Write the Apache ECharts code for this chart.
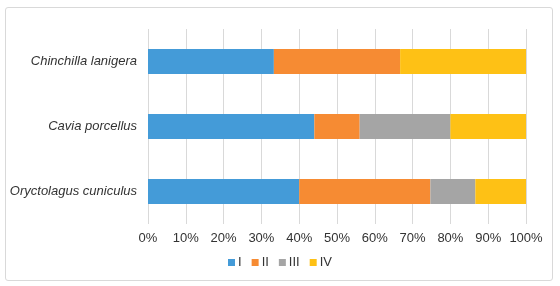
<!DOCTYPE html>
<html>
<head>
<meta charset="utf-8">
<script src="https://cdn.jsdelivr.net/npm/echarts@6/dist/echarts.min.js"></script>
<style>
html, body { margin: 0; padding: 0; background: #fff; }
#box { position: absolute; left: 5px; top: 7px; width: 548px; height: 274px; border: 1px solid #d9d9d9; border-radius: 3px; box-sizing: border-box; }
#chart { position: absolute; left: 0; top: 0; width: 560px; height: 286px; }
</style>
</head>
<body>
<div id="box"></div>
<div id="chart"></div>
<script>
var species = ['Oryctolagus cuniculus', 'Cavia porcellus', 'Chinchilla lanigera'];
var seriesNames = ['I', 'II', 'III', 'IV'];
var valI = [40, 44, 33.3];
var valII = [34.7, 12, 33.4];
var valIII = [11.9, 24, 0];
var valIV = [13.4, 20, 33.3];
var colors = ['#449bd8', '#f68b33', '#a5a5a5', '#fec115'];

var font = '"Liberation Sans Narrow", "Liberation Sans", sans-serif';
(function(){
  var myChart = echarts.init(document.getElementById('chart'));
  var all = [valI, valII, valIII, valIV];
  var series = seriesNames.map(function (n, i) {
    return {
      name: n,
      type: 'bar',
      stack: 'total',
      barWidth: 25,
      itemStyle: { color: colors[i] },
      data: all[i]
    };
  });
  var option = {
    animation: false,
    textStyle: { fontFamily: font },
    grid: { left: 148, right: 34, top: 29, bottom: 62, containLabel: false },
    legend: {
      bottom: 12,
      left: 'center',
      itemWidth: 7,
      itemHeight: 7,
      itemGap: 10,
      icon: 'rect',
      textStyle: { color: '#333', fontSize: 13, fontFamily: font, padding: [0, 0, 0, -2] },
      data: seriesNames
    },
    xAxis: {
      type: 'value',
      min: 0,
      max: 100,
      interval: 10,
      axisLine: { show: false },
      axisTick: { show: false },
      splitLine: { lineStyle: { color: '#d9d9d9' } },
      axisLabel: { formatter: '{value}%', color: '#333', fontSize: 13, margin: 8, fontFamily: font }
    },
    yAxis: {
      type: 'category',
      data: species,
      axisLine: { show: false },
      axisTick: { show: false },
      axisLabel: { color: '#333', fontSize: 13, fontStyle: 'italic', margin: 11, fontFamily: font }
    },
    series: series
  };
  myChart.setOption(option);
  window.addEventListener('resize', function () { myChart.resize(); });
})();
</script>
</body>
</html>
